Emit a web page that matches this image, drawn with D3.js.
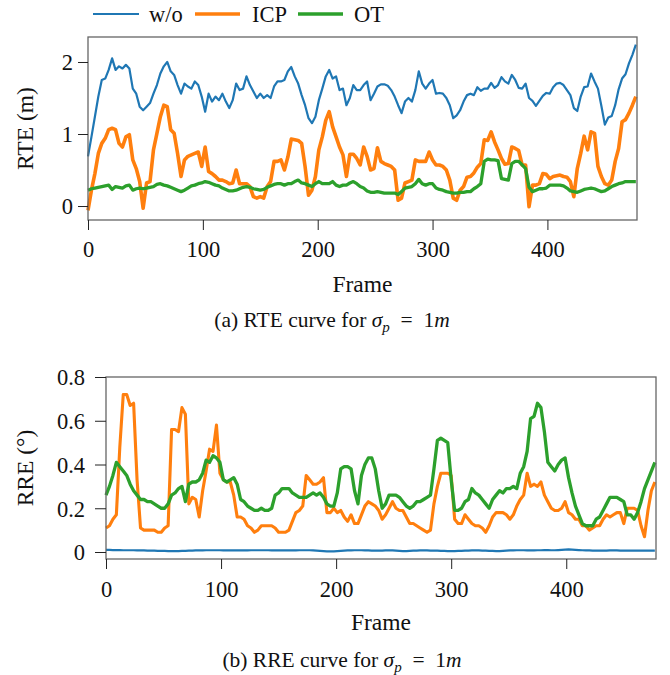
<!DOCTYPE html>
<html>
<head>
<meta charset="utf-8">
<script src="https://cdn.jsdelivr.net/npm/d3@7"></script>
<style>
  body { margin: 0; background: #fff; }
  svg { display: block; }
  svg text { font-family: "Liberation Serif", "Times New Roman", Times, serif; }
</style>
</head>
<body>
<div id="chart"></div>
<script>
//frames are sampled every 3 frames (0 .. 477)
const frameStep = 3;
const serif = "'Liberation Serif', 'Times New Roman', Times, serif";

const seriesNames = ["w/o", "ICP", "OT"];
const seriesColors = ["#1f77b4", "#ff7f0e", "#2ca02c"];

const xTicks = [0, 100, 200, 300, 400];
const rteTicks = [0, 1, 2];
const rreTicks = [0, 0.2, 0.4, 0.6, 0.8];

//RTE (m)
const rteWo = [
  0.69, 0.96, 1.24, 1.52, 1.75, 1.77, 1.89, 2.05, 1.89, 1.94, 1.91, 1.96, 1.91, 1.63, 1.56, 1.38, 1.33, 1.38, 1.43, 1.56,
  1.68, 1.84, 1.94, 2.00, 1.87, 1.82, 1.68, 1.56, 1.70, 1.66, 1.63, 1.73, 1.68, 1.52, 1.31, 1.56, 1.45, 1.52, 1.47, 1.56,
  1.45, 1.36, 1.47, 1.70, 1.61, 1.63, 1.80, 1.68, 1.59, 1.50, 1.56, 1.50, 1.54, 1.50, 1.66, 1.73,
  1.73, 1.75, 1.87, 1.93, 1.80, 1.70, 1.54, 1.40, 1.22, 1.15, 1.24, 1.47, 1.63, 1.80, 1.89, 1.77, 1.80, 1.61, 1.63, 1.40,
  1.50, 1.68, 1.61, 1.61, 1.68, 1.73, 1.47, 1.56, 1.66, 1.69, 1.69, 1.67, 1.61, 1.52, 1.40, 1.29, 1.45, 1.50, 1.45, 1.61,
  1.87, 1.70, 1.63, 1.70, 1.75, 1.56, 1.57, 1.56, 1.50, 1.40, 1.22, 1.26, 1.33, 1.45, 1.54,
  1.56, 1.54, 1.65, 1.60, 1.63, 1.63, 1.71, 1.64, 1.68, 1.79, 1.73, 1.70, 1.82, 1.75, 1.64, 1.63, 1.70, 1.50, 1.46, 1.39,
  1.46, 1.53, 1.57, 1.56, 1.65, 1.70, 1.71, 1.68, 1.61, 1.54, 1.36, 1.32, 1.52, 1.65, 1.66, 1.84, 1.73, 1.63, 1.39, 1.13,
  1.23, 1.25, 1.40, 1.62, 1.77, 1.83, 1.98, 2.10, 2.24
];
const rteIcp = [
  -0.06, 0.22, 0.45, 0.73, 0.87, 0.94, 1.06, 1.08, 1.06, 0.87, 0.82, 0.96, 0.99, 0.64, 0.52, 0.34, -0.03, 0.32, 0.34, 0.78,
  1.01, 1.24, 1.40, 1.38, 1.06, 1.01, 0.73, 0.41, 0.64, 0.69, 0.71, 0.73, 0.75, 0.55, 0.82, 0.48, 0.45, 0.41, 0.36, 0.36,
  0.34, 0.31, 0.32, 0.50, 0.31, 0.31, 0.31, 0.27, 0.13, 0.11, 0.13, 0.11, 0.27, 0.34, 0.62, 0.62,
  0.64, 0.50, 0.68, 0.93, 0.92, 0.91, 0.87, 0.55, 0.15, 0.22, 0.41, 0.78, 0.96, 1.19, 1.31, 1.10, 0.96, 0.82, 0.71, 0.41,
  0.72, 0.72, 0.66, 0.57, 0.82, 0.69, 0.50, 0.52, 0.81, 0.62, 0.59, 0.57, 0.55, 0.50, 0.08, 0.11, 0.32, 0.34, 0.36, 0.64,
  0.62, 0.62, 0.62, 0.75, 0.64, 0.57, 0.57, 0.55, 0.50, 0.36, 0.11, 0.08, 0.22, 0.27, 0.40,
  0.41, 0.46, 0.54, 0.59, 0.92, 0.91, 1.03, 0.89, 0.78, 0.66, 0.58, 0.59, 0.82, 0.80, 0.77, 0.57, 0.57, -0.01, 0.29, 0.29,
  0.31, 0.45, 0.44, 0.38, 0.41, 0.42, 0.43, 0.41, 0.40, 0.34, 0.13, 0.52, 0.73, 0.97, 0.78, 1.03, 1.01, 0.55, 0.41, 0.31,
  0.29, 0.36, 0.62, 0.80, 1.17, 1.20, 1.29, 1.40, 1.52
];
const rteOt = [
  0.22, 0.24, 0.25, 0.26, 0.27, 0.28, 0.29, 0.23, 0.27, 0.26, 0.25, 0.28, 0.29, 0.22, 0.24, 0.25, 0.24, 0.25, 0.26, 0.27,
  0.30, 0.31, 0.29, 0.28, 0.26, 0.24, 0.22, 0.20, 0.22, 0.25, 0.28, 0.29, 0.31, 0.32, 0.34, 0.33, 0.31, 0.29, 0.28, 0.25,
  0.23, 0.21, 0.21, 0.22, 0.24, 0.26, 0.27, 0.26, 0.24, 0.23, 0.22, 0.23, 0.26, 0.28, 0.30, 0.31,
  0.31, 0.29, 0.31, 0.31, 0.34, 0.36, 0.32, 0.31, 0.29, 0.27, 0.31, 0.34, 0.31, 0.31, 0.31, 0.34, 0.29, 0.27, 0.29, 0.29,
  0.32, 0.34, 0.31, 0.27, 0.25, 0.21, 0.19, 0.19, 0.20, 0.19, 0.18, 0.18, 0.18, 0.18, 0.16, 0.20, 0.25, 0.26, 0.27, 0.31,
  0.37, 0.31, 0.29, 0.31, 0.31, 0.25, 0.23, 0.22, 0.20, 0.19, 0.18, 0.18, 0.19, 0.19, 0.20,
  0.20, 0.24, 0.27, 0.31, 0.62, 0.65, 0.64, 0.64, 0.63, 0.38, 0.37, 0.36, 0.59, 0.62, 0.62, 0.57, 0.52, 0.26, 0.20, 0.22,
  0.24, 0.24, 0.25, 0.29, 0.29, 0.29, 0.29, 0.28, 0.25, 0.21, 0.20, 0.19, 0.21, 0.23, 0.24, 0.25, 0.24, 0.22, 0.20, 0.21,
  0.24, 0.27, 0.29, 0.31, 0.32, 0.34, 0.34, 0.34, 0.34
];

//RRE (deg)
const rreWo = [
  0.010, 0.010, 0.009, 0.009, 0.009, 0.008, 0.008, 0.008, 0.008, 0.007, 0.007, 0.007, 0.006, 0.006, 0.006, 0.005, 0.005, 0.005, 0.004, 0.004,
  0.004, 0.004, 0.005, 0.005, 0.006, 0.006, 0.007, 0.007, 0.007, 0.008, 0.008, 0.008, 0.008, 0.008, 0.007, 0.007, 0.007, 0.007, 0.007, 0.007,
  0.007, 0.007, 0.008, 0.008, 0.008, 0.008, 0.008, 0.008, 0.007, 0.007, 0.007, 0.007, 0.007, 0.007, 0.007, 0.007, 0.008, 0.008, 0.008, 0.008,
  0.007, 0.006, 0.005, 0.004, 0.003, 0.003, 0.003, 0.004, 0.005, 0.006, 0.007, 0.007, 0.008, 0.008, 0.008, 0.007, 0.007, 0.006, 0.006, 0.006,
  0.006, 0.007, 0.007, 0.007, 0.006, 0.005, 0.004, 0.004, 0.005, 0.006, 0.006, 0.007, 0.007, 0.007, 0.006, 0.006, 0.006, 0.005, 0.005, 0.004,
  0.004, 0.004, 0.005, 0.005, 0.006, 0.006, 0.007, 0.007, 0.007, 0.006, 0.006, 0.005, 0.005, 0.004, 0.004, 0.005, 0.006, 0.007, 0.007, 0.008,
  0.008, 0.008, 0.007, 0.007, 0.007, 0.008, 0.008, 0.009, 0.009, 0.008, 0.008, 0.009, 0.010, 0.011, 0.012, 0.011, 0.010, 0.009, 0.008, 0.007,
  0.007, 0.006, 0.006, 0.006, 0.006, 0.006, 0.007, 0.007, 0.007, 0.006, 0.006, 0.006, 0.006, 0.006, 0.006, 0.006, 0.006, 0.006, 0.006, 0.006
];
const rreIcp = [
  0.11, 0.12, 0.15, 0.17, 0.48, 0.72, 0.72, 0.67, 0.68, 0.33, 0.11, 0.10, 0.10, 0.10, 0.10, 0.09, 0.09, 0.11, 0.12, 0.56,
  0.56, 0.55, 0.66, 0.63, 0.22, 0.25, 0.24, 0.16, 0.28, 0.37, 0.47, 0.46, 0.58, 0.36, 0.33, 0.32, 0.32, 0.26, 0.16,
  0.16, 0.15, 0.12, 0.11, 0.09, 0.10, 0.12, 0.12, 0.12, 0.12, 0.11, 0.09, 0.09, 0.09, 0.10, 0.14, 0.18, 0.19, 0.21, 0.35,
  0.33, 0.31, 0.31, 0.32, 0.34, 0.18, 0.18, 0.20, 0.18, 0.19, 0.16, 0.14, 0.17, 0.13, 0.13, 0.17, 0.21, 0.23, 0.22, 0.21,
  0.19, 0.15, 0.17, 0.20, 0.23, 0.20, 0.19, 0.19, 0.16, 0.13, 0.13, 0.12, 0.11, 0.10, 0.09, 0.10, 0.22, 0.30, 0.36, 0.36, 0.36,
  0.35, 0.15, 0.13, 0.13, 0.17, 0.15, 0.13, 0.12, 0.12, 0.11, 0.09, 0.12, 0.16, 0.18, 0.18, 0.18, 0.17, 0.15, 0.17, 0.21,
  0.24, 0.26, 0.36, 0.30, 0.31, 0.30, 0.32, 0.26, 0.23, 0.20, 0.19, 0.19, 0.20, 0.23, 0.18, 0.17, 0.15, 0.15, 0.12, 0.12,
  0.10, 0.11, 0.12, 0.12, 0.15, 0.17, 0.16, 0.17, 0.18, 0.18, 0.13, 0.20, 0.20, 0.20, 0.19, 0.12, 0.07, 0.19, 0.28, 0.32
];
const rreOt = [
  0.26, 0.30, 0.35, 0.41, 0.39, 0.37, 0.35, 0.31, 0.28, 0.26, 0.24, 0.24, 0.23, 0.23, 0.22, 0.21, 0.20, 0.20, 0.22, 0.26,
  0.27, 0.29, 0.30, 0.23, 0.31, 0.32, 0.32, 0.33, 0.36, 0.42, 0.41, 0.44, 0.43, 0.41, 0.33, 0.32, 0.33, 0.34, 0.31,
  0.24, 0.23, 0.21, 0.20, 0.19, 0.19, 0.20, 0.19, 0.19, 0.20, 0.26, 0.27, 0.29, 0.29, 0.29, 0.27, 0.26, 0.25, 0.25, 0.25,
  0.26, 0.27, 0.26, 0.27, 0.25, 0.22, 0.21, 0.21, 0.27, 0.38, 0.39, 0.39, 0.38, 0.28, 0.22, 0.35, 0.40, 0.43, 0.43, 0.38,
  0.28, 0.20, 0.22, 0.26, 0.26, 0.26, 0.25, 0.23, 0.21, 0.20, 0.21, 0.23, 0.23, 0.24, 0.25, 0.26, 0.38, 0.51, 0.52, 0.51, 0.50,
  0.33, 0.19, 0.19, 0.20, 0.23, 0.24, 0.29, 0.27, 0.26, 0.24, 0.22, 0.20, 0.24, 0.26, 0.28, 0.27, 0.29, 0.29, 0.30, 0.29,
  0.36, 0.39, 0.46, 0.61, 0.62, 0.68, 0.66, 0.55, 0.41, 0.39, 0.37, 0.40, 0.42, 0.43, 0.34, 0.27, 0.21, 0.17, 0.13, 0.12,
  0.12, 0.12, 0.15, 0.16, 0.19, 0.22, 0.25, 0.25, 0.25, 0.24, 0.23, 0.17, 0.17, 0.15, 0.18, 0.23, 0.29, 0.33, 0.37, 0.41
];

//svg size
const width = 670;
const height = 675;

const svg = d3
    .select("#chart")
    .append("svg")
    .attr("width", width)
    .attr("height", height)
    .attr("font-family", serif);

//legend
const legendItems = [
  { x1: 93, x2: 139, tx: 149 },
  { x1: 195, x2: 240, tx: 252 },
  { x1: 298, x2: 343, tx: 354 },
];
const gLegend = svg.append("g");
legendItems.forEach((d, i) => {
  gLegend
      .append("line")
      .attr("x1", d.x1)
      .attr("x2", d.x2)
      .attr("y1", 14)
      .attr("y2", 14)
      .attr("stroke", seriesColors[i])
      .attr("stroke-width", i === 0 ? 2.2 : 3.4);
  gLegend
      .append("text")
      .attr("x", d.tx)
      .attr("y", 22)
      .attr("font-size", 22.5)
      .attr("font-family", serif)
      .attr("fill", "#111")
      .text(seriesNames[i]);
});

function drawPanel(opt) {
  const { left, right, top, bottom } = opt;
  const g = svg.append("g");

  const x = d3.scaleLinear().domain([0, 478]).range([left, right]);
  const y = d3.scaleLinear().domain(opt.yDomain).range([bottom, top]);

  //lines
  const line = d3
      .line()
      .x((d, i) => x(i * frameStep))
      .y((d) => y(d));

  opt.series.forEach((values, i) => {
    g.append("path")
        .datum(values)
        .attr("fill", "none")
        .attr("stroke", seriesColors[i])
        .attr("stroke-width", opt.widths[i])
        .attr("stroke-linejoin", "round")
        .attr("d", line);
  });

  //frame
  g.append("rect")
      .attr("x", left)
      .attr("y", top)
      .attr("width", right - left)
      .attr("height", bottom - top)
      .attr("fill", "none")
      .attr("stroke", "#666")
      .attr("stroke-width", 1.3);

  //x axis
  const gx = g
      .append("g")
      .attr("transform", `translate(0,${bottom})`)
      .call(d3.axisBottom(x).tickValues(xTicks).tickSize(10).tickSizeOuter(0))
      .attr("font-family", serif);
  gx.select(".domain").remove();
  gx.selectAll(".tick line").attr("stroke", "#222");
  gx.selectAll(".tick text")
      .attr("y", opt.xLabelY)
      .attr("dy", 0)
      .attr("font-size", 22.5)
      .attr("font-family", serif)
      .attr("fill", "#111");

  //y axis
  const gy = g
      .append("g")
      .attr("transform", `translate(${left},0)`)
      .call(
          d3
              .axisLeft(y)
              .tickValues(opt.yTicks)
              .tickSize(opt.yTickSize)
              .tickSizeOuter(0)
              .tickFormat(opt.yFormat)
      )
      .attr("font-family", serif);
  gy.select(".domain").remove();
  gy.selectAll(".tick line").attr("stroke", "#222");
  gy.selectAll(".tick text")
      .attr("x", opt.yLabelX)
      .attr("dy", "0.35em")
      .attr("font-size", 22.5)
      .attr("font-family", serif)
      .attr("fill", "#111");

  //axis titles
  g.append("text")
      .attr("x", (left + right) / 2)
      .attr("y", opt.frameY)
      .attr("text-anchor", "middle")
      .attr("font-size", 23.5)
      .attr("font-family", serif)
      .attr("fill", "#111")
      .text("Frame");

  g.append("text")
      .attr("transform", `translate(33,${(top + bottom) / 2}) rotate(-90)`)
      .attr("text-anchor", "middle")
      .attr("font-size", 23.5)
      .attr("font-family", serif)
      .attr("fill", "#111")
      .text(opt.yTitle);

  //caption
  const cap = g
      .append("text")
      .attr("x", opt.captionX)
      .attr("y", opt.captionY)
      .attr("text-anchor", "middle")
      .attr("font-size", 21.5)
      .attr("font-family", serif)
      .attr("fill", "#111");
  cap.append("tspan").text(opt.captionLead + " curve for ");
  cap.append("tspan").attr("font-style", "italic").text("σ");
  cap.append("tspan")
      .attr("font-style", "italic")
      .attr("font-size", 15)
      .attr("dy", 4.5)
      .text("p");
  cap.append("tspan").attr("dy", -4.5).text("\u2002=\u20021");
  cap.append("tspan").attr("font-style", "italic").text("m");
}

drawPanel({
  left: 88,
  right: 637,
  top: 37,
  bottom: 220,
  yDomain: [-0.194, 2.347],
  yTicks: rteTicks,
  yTickSize: 10,
  yLabelX: -15,
  yFormat: d3.format("d"),
  series: [rteWo, rteIcp, rteOt],
  widths: [2.2, 3.6, 3.3],
  xLabelY: 37,
  frameY: 292,
  yTitle: "RTE (m)",
  captionLead: "(a) RTE",
  captionX: 332,
  captionY: 327,
});

drawPanel({
  left: 106,
  right: 656,
  top: 377,
  bottom: 559,
  yDomain: [-0.032, 0.8],
  yTicks: rreTicks,
  yTickSize: 11,
  yLabelX: -21,
  yFormat: (d) => (d === 0 ? "0" : d3.format(".1f")(d)),
  series: [rreWo, rreIcp, rreOt],
  widths: [2.2, 3.1, 3.3],
  xLabelY: 38,
  frameY: 630,
  yTitle: "RRE (°)",
  captionLead: "(b) RRE",
  captionX: 342,
  captionY: 667,
});
</script>
</body>
</html>
